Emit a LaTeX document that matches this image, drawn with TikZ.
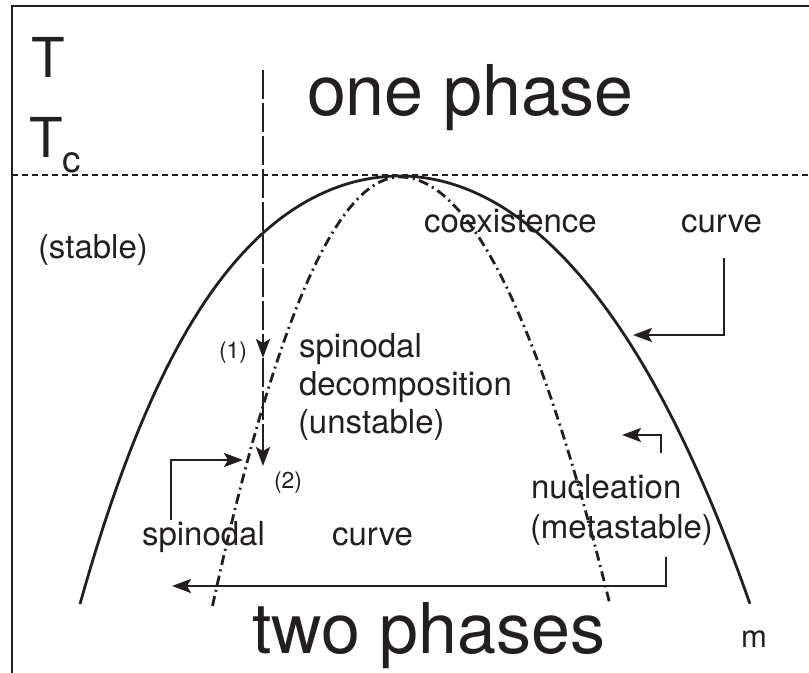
\documentclass[tikz,border=0pt]{standalone}
\usepackage{fontspec}
\setmainfont{TeX Gyre Heros}
\usetikzlibrary{arrows.meta}
\definecolor{ink}{RGB}{35,31,32}
\begin{document}
\begin{tikzpicture}[x=1bp,y=-1bp, line width=2.8bp, ink,
  txt/.style={inner sep=0pt, outer sep=0pt, anchor=base west, text=ink},
  big/.style={font=\fontsize{70bp}{80bp}\selectfont},
  mid/.style={font=\fontsize{33bp}{38bp}\selectfont},
  sml/.style={font=\fontsize{23bp}{26bp}\selectfont},
  conn/.style={line width=2.5bp, -{Stealth[length=19bp,width=14bp,inset=4bp]}},
  vdash/.style={dash pattern=on 29bp off 4bp},
  spin/.style={dash pattern=on 10bp off 4.5bp on 2bp off 4.5bp}]
\useasboundingbox (0,0) rectangle (809,673);
\fill[white] (0,0) rectangle (809,673);

% frame
\coordinate (fr1) at (809,6);
\coordinate (fr2) at (12,6);
\coordinate (fr3) at (12,673);
\draw[line join=miter] (fr1) -- (fr2) -- (fr3);

% Tc line
\coordinate (tcL) at (12,175);
\coordinate (tcR) at (809,175);
\draw[dash pattern=on 6bp off 4bp, line width=2.4bp] (tcL) -- (tcR);

% coexistence curve
\draw plot[variable=\t, domain=3.2:0, samples=60] ({400-100*\t},{176+27.84*\t*\t+1.363*\t*\t*\t*\t})
   -- plot[variable=\t, domain=0:3.5, samples=60] ({400+100*\t},{176+29.2*\t*\t+0.468*\t*\t*\t*\t});

% spinodal curve
\draw[spin] plot[variable=\t, domain=1.875:0, samples=50] ({400-100*\t},{177+122*\t*\t})
   -- plot[variable=\t, domain=0:2.1, samples=50] ({400+100*\t},{177+97*\t*\t});

% texts
\node[txt, font=\fontsize{55bp}{60bp}\selectfont] (T) at (31,78) {T};
\node[txt, font=\fontsize{55bp}{60bp}\selectfont] (Tc) at (29,158) {T\raisebox{-14bp}{\fontsize{37bp}{40bp}\selectfont c}};
\node[txt, big] (one) at (307,116) {one phase};
\node[txt, big] (two) at (252,653) {two phases};
\node[txt, mid] (stable) at (38,258) {(stable)};
\node[txt, mid] (coex) at (424,232) {coexistence};
\node[txt, mid] (curveR) at (681,232) {curve};
\node[txt, sml] (one1) at (219,358) {(1)};
\node[txt, sml] (two2) at (274,488) {(2)};
\node[txt, mid] (sp1) at (299,357) {spinodal};
\node[txt, mid] (sp2) at (299,395) {decomposition};
\node[txt, mid] (sp3) at (298,433) {(unstable)};
\node[txt, mid] (nuc1) at (531,498) {nucleation};
\node[txt, mid] (nuc2) at (530,538) {(metastable)};
\node[txt, mid] (spc1) at (142,545) {spinodal};
\node[txt, mid] (spc2) at (332,545) {curve};
\node[txt, font=\fontsize{31bp}{34bp}\selectfont] (m) at (741,647) {m};

% vertical quench arrows
\coordinate (vtop) at (263,70);
\coordinate (p1) at (263,358);
\coordinate (p2) at (263,466);
\draw[conn, vdash] (vtop) -- (p1);
\draw[conn, vdash] (p1) -- (p2);

% pointer arrows
\coordinate (c1) at (724,258);
\coordinate (c2) at (633,335);
\draw[conn] (c1) |- (c2);
\coordinate (n1) at (661,453);
\coordinate (n2) at (622,435);
\draw[conn] (n1) |- (n2);
\coordinate (b1) at (666,557);
\coordinate (b2) at (172,586);
\draw[conn] (b1) |- (b2);
\coordinate (s1) at (171,520);
\coordinate (s2) at (243,460);
\draw[conn] (s1) |- (s2);
\end{tikzpicture}
\end{document}
